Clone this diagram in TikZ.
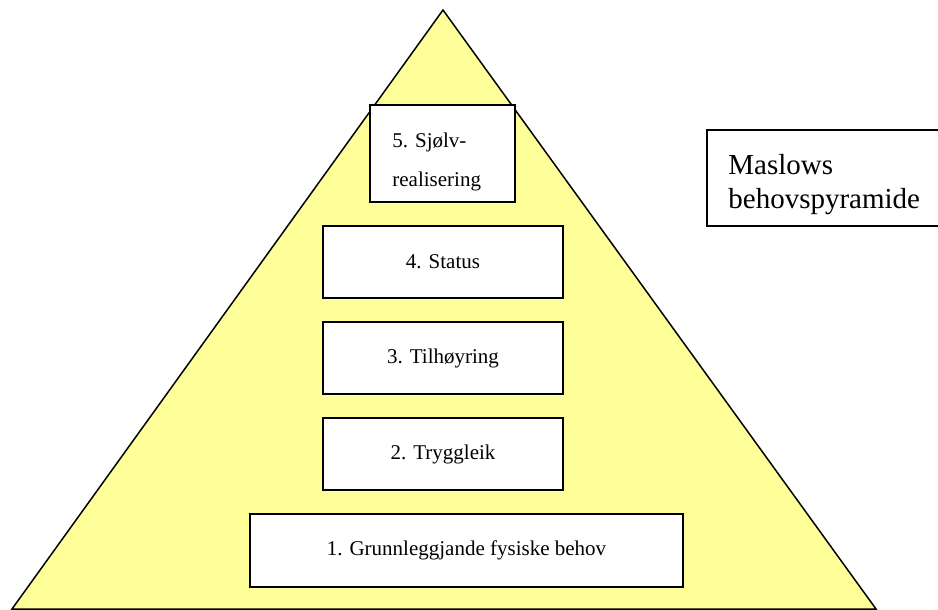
\documentclass[tikz,border=0pt]{standalone}
\usepackage{fontspec}
\setmainfont{Liberation Serif}
\usetikzlibrary{positioning}

\definecolor{pyryellow}{RGB}{255,255,153}

\begin{document}
\begin{tikzpicture}[x=0.5pt, y=-0.5pt,
                levelbox/.style={rectangle, draw=black, fill=white, line width=1pt, inner sep=0pt, font=\fontsize{10.5}{12}\selectfont},
                titlebox/.style={rectangle, draw=black, fill=white, line width=1pt, inner sep=0pt},
                leveltext/.style={anchor=base west, inner sep=0pt, font=\fontsize{10.5}{12}\selectfont},
                titletext/.style={anchor=base west, inner sep=0pt, font=\fontsize{14.5}{16}\selectfont},
            ]

            \useasboundingbox (0,0) rectangle (938,610);

            % pyramid
            \coordinate (top) at (443,10);
            \coordinate (baseL) at (12,609);
            \coordinate (baseR) at (876,609);
            \draw[fill=pyryellow, line width=0.75pt] (top) -- (baseR) -- (baseL) -- cycle;

            % level 5
            \node[levelbox, minimum width=72.5pt, minimum height=48.5pt] (lvl5) at (442.5,153.5) {};
            \node[leveltext] (lvl5a) at (392,148) {5. Sjølv-};
            \node[leveltext] (lvl5b) at (392,187) {realisering};

            % levels 4 to 2
            \node[levelbox, minimum width=120pt, minimum height=36pt] (lvl4) at (443,262) {4. Status};
            \node[levelbox, minimum width=120pt, minimum height=36pt] (lvl3) at (443,358) {3. Tilhøyring};
            \node[levelbox, minimum width=120pt, minimum height=36pt] (lvl2) at (443,454) {2. Tryggleik};

            % level 1
            \node[levelbox, minimum width=216.5pt, minimum height=36.5pt] (lvl1) at (466.5,550.5) {1. Grunnleggjande fysiske behov};

            % title
            \node[titlebox, minimum width=119pt, minimum height=48pt] (title) at (826,178) {};
            \node[titletext] (titlea) at (728,175) {Maslows};
            \node[titletext] (titleb) at (728,208) {behovspyramide};
        \end{tikzpicture}
\end{document}
